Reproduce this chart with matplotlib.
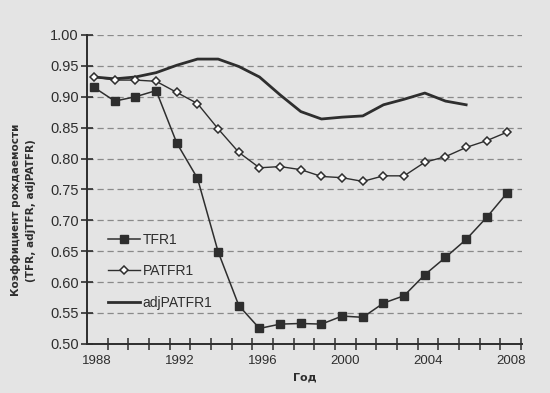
import numpy as np
import matplotlib
matplotlib.use('Agg')
import matplotlib.pyplot as plt

years = list(range(1988, 2009))

tfr1 = [0.915, 0.893, 0.900, 0.910, 0.825, 0.768, 0.649, 0.562, 0.525, 0.532,
        0.533, 0.532, 0.545, 0.543, 0.566, 0.578, 0.612, 0.640, 0.669, 0.705, 0.745]
patfr1 = [0.932, 0.927, 0.927, 0.925, 0.907, 0.889, 0.848, 0.810, 0.785, 0.787,
          0.782, 0.771, 0.769, 0.763, 0.772, 0.772, 0.794, 0.803, 0.818, 0.829, 0.843]
adj_years = list(range(1988, 2007))
adjpatfr1 = [0.932, 0.929, 0.932, 0.939, 0.951, 0.961, 0.961, 0.949, 0.932, 0.903,
             0.876, 0.864, 0.867, 0.869, 0.887, 0.896, 0.906, 0.893, 0.887]

yticks = [0.50, 0.55, 0.60, 0.65, 0.70, 0.75, 0.80, 0.85, 0.90, 0.95, 1.00]
xlabels = [1988, 1992, 1996, 2000, 2004, 2008]

bg = '#e4e4e4'
ink = '#2e2e2e'

fig = plt.figure(figsize=(5.5, 3.93), dpi=100, facecolor=bg)
ax = fig.add_axes([0.158, 0.125, 0.791, 0.786], facecolor=bg)

# сетка
for v in yticks[1:]:
    ax.axhline(v, color='#8a8a8a', lw=0.9, ls=(0, (5, 3)), zorder=0)

ax.plot(years, tfr1, color=ink, lw=1.1, marker='s', ms=5.5,
        mfc=ink, mec=ink, label='TFR1', zorder=3)
ax.plot(years, patfr1, color=ink, lw=1.0, marker='D', ms=4.5,
        mfc='white', mec=ink, mew=1.1, label='PATFR1', zorder=3)
ax.plot(adj_years, adjpatfr1, color=ink, lw=2.0, label='adjPATFR1', zorder=2)

ax.set_xlim(1987.65, 2008.7)
ax.set_ylim(0.5, 1.0)

ax.set_yticks(yticks)
ax.set_yticklabels(['%.2f' % v for v in yticks], fontsize=10.5,
                   family='Liberation Sans', color=ink)
ax.tick_params(axis='y', direction='inout', length=8, width=1.2, color=ink, pad=2)

ax.set_xticks(np.arange(1988.65, 2008.7, 1.0))
ax.set_xticklabels([])
ax.tick_params(axis='x', which='major', direction='inout', length=8, width=1.1, color=ink)
ax.set_xticks([y + 0.15 for y in xlabels], minor=True)
ax.set_xticklabels([str(y) for y in xlabels], minor=True, fontsize=9.5,
                   family='Liberation Sans', color=ink)
ax.tick_params(axis='x', which='minor', length=0, pad=8)

for s in ['top', 'right']:
    ax.spines[s].set_visible(False)
for s in ['left', 'bottom']:
    ax.spines[s].set_color(ink)
    ax.spines[s].set_linewidth(1.4)

ax.set_xlabel('Год', fontsize=8, fontweight='bold', color=ink, labelpad=4)
fig.text(0.043, 0.465, 'Коэффициент рождаемости\n(TFR, adjTFR, adjPATFR)',
         rotation=90, ha='center', va='center', fontsize=7.5,
         fontweight='bold', color=ink, linespacing=1.6)

leg = ax.legend(loc='upper left', bbox_to_anchor=(0.02, 0.4), frameon=False,
                fontsize=10, handlelength=2.3, handletextpad=0.2,
                labelspacing=1.25, prop={'family': 'Liberation Sans', 'size': 10})
for t in leg.get_texts():
    t.set_color(ink)

fig.savefig('out.png', dpi=100, facecolor=bg)
